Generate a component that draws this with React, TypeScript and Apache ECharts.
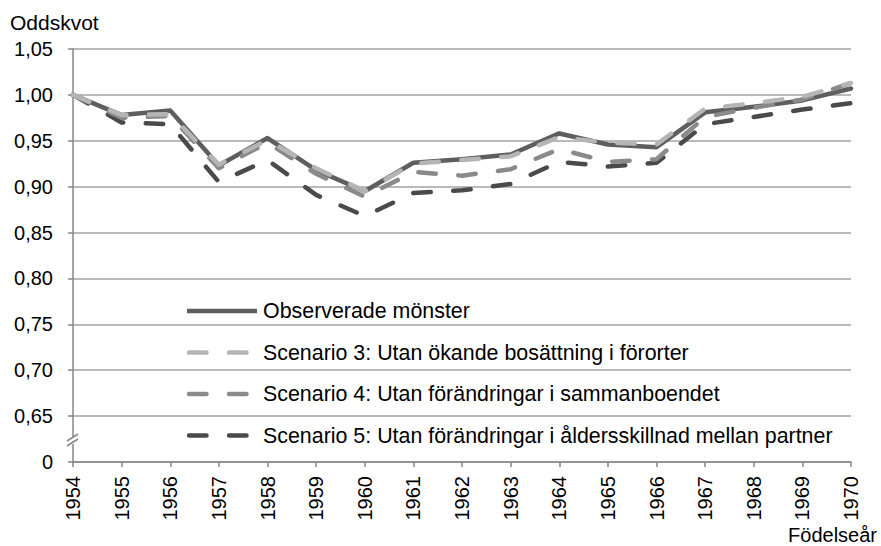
import React, { useEffect, useRef } from "react";
import * as echarts from "echarts";

const years = ["1954","1955","1956","1957","1958","1959","1960","1961","1962","1963","1964","1965","1966","1967","1968","1969","1970"];
const observed = [1.000, 0.978, 0.983, 0.923, 0.953, 0.918, 0.895, 0.926, 0.930, 0.935, 0.958, 0.946, 0.943, 0.981, 0.987, 0.994, 1.007];
const scenario3 = [1.000, 0.978, 0.979, 0.924, 0.951, 0.920, 0.895, 0.925, 0.929, 0.933, 0.954, 0.948, 0.946, 0.985, 0.991, 0.998, 1.013];
const scenario4 = [1.000, 0.975, 0.977, 0.920, 0.948, 0.914, 0.889, 0.916, 0.912, 0.919, 0.941, 0.927, 0.930, 0.976, 0.986, 0.995, 1.013];
const scenario5 = [1.000, 0.970, 0.968, 0.905, 0.929, 0.891, 0.868, 0.893, 0.896, 0.903, 0.927, 0.922, 0.926, 0.968, 0.976, 0.984, 0.991];

const seriesNames = [
  "Observerade mönster",
  "Scenario 3: Utan ökande bosättning i förorter",
  "Scenario 4: Utan förändringar i sammanboendet",
  "Scenario 5: Utan förändringar i åldersskillnad mellan partner",
];
const seriesColors = ["#5e5e5e", "#b5b5b5", "#8a8a8a", "#4a4a4a"];
const seriesDashed = [false, true, true, true];

const FONT = "'Liberation Sans', Arial, sans-serif";

export default function App() {
  const ref = useRef<HTMLDivElement>(null);
  useEffect(() => {
    document.body.style.margin = "0";
    const chart = echarts.init(ref.current!, null, { renderer: "svg" });
    const dataSets = [observed, scenario3, scenario4, scenario5];
    const lw = 4.5;
    const dash = [17.5, 22.5];
    const series: any[] = [0, 3, 2, 1].map((i) => ({
      name: seriesNames[i],
      type: "line",
      data: dataSets[i],
      symbol: "none",
      z: 2 + (i === 0 ? 0 : 4 - i),
      lineStyle: {
        color: seriesColors[i],
        width: lw,
        type: seriesDashed[i] ? dash : "solid",
        cap: "round",
        join: "round",
      },
    }));

    const legendX0 = 189;
    const legendX1 = 255;
    const rowY = [311, 352.5, 394, 435.5];
    const legendGraphics: any[] = [];
    seriesNames.forEach((name, i) => {
      legendGraphics.push({
        type: "line",
        shape: { x1: seriesDashed[i] ? legendX0 : 187, y1: rowY[i], x2: seriesDashed[i] ? legendX1 : 257, y2: rowY[i] },
        style: {
          stroke: seriesColors[i],
          lineWidth: lw,
          lineDash: seriesDashed[i] ? dash : null,
          lineCap: seriesDashed[i] ? "round" : "butt",
        },
        z: 10,
      });
      legendGraphics.push({
        type: "text",
        x: 263,
        y: rowY[i],
        style: {
          text: name,
          font: `21.4px ${FONT}`,
          fill: "#000",
          verticalAlign: "middle",
          align: "left",
        },
        z: 10,
      });
    });

    chart.setOption({
      animation: false,
      grid: { left: 73, right: 30, top: 49, bottom: 84, containLabel: false },
      xAxis: {
        type: "category",
        data: years,
        boundaryGap: false,
        axisLine: { lineStyle: { color: "#878787", width: 1.5 } },
        axisTick: { show: true, length: 5, alignWithLabel: true, lineStyle: { color: "#878787", width: 1.5 } },
        axisLabel: {
          rotate: 90,
          margin: 14,
          color: "#000",
          fontSize: 20,
          fontFamily: FONT,
          interval: 0,
        },
        splitLine: { show: false },
      },
      yAxis: {
        type: "value",
        min: 0.6,
        max: 1.05,
        interval: 0.05,
        axisLine: { show: true, lineStyle: { color: "#878787", width: 1.5 } },
        axisTick: { show: true, length: 5, lineStyle: { color: "#878787", width: 1.5 } },
        axisLabel: {
          margin: 20,
          color: "#000",
          fontSize: 20,
          fontFamily: FONT,
          formatter: (v: number) => (v < 0.62 ? "0" : v.toFixed(2).replace(".", ",")),
        },
        splitLine: { show: true, lineStyle: { color: "#a3a3a3", width: 1.5 } },
      },
      series,
      graphic: [
        {
          type: "text",
          x: 10,
          y: 22,
          style: { text: "Oddskvot", font: `21px ${FONT}`, fill: "#000", verticalAlign: "middle" },
        },
        {
          type: "text",
          x: 877,
          y: 535,
          style: { text: "Födelseår", font: `20px ${FONT}`, fill: "#000", verticalAlign: "middle", align: "right" },
        },
        {
          type: "rect",
          shape: { x: 70, y: 437, width: 6, height: 7 },
          style: { fill: "#fff" },
          z: 20,
        },
        {
          type: "line",
          shape: { x1: 67, y1: 441, x2: 78, y2: 434 },
          style: { stroke: "#878787", lineWidth: 1.5 },
          z: 21,
        },
        {
          type: "line",
          shape: { x1: 67, y1: 446, x2: 78, y2: 439 },
          style: { stroke: "#878787", lineWidth: 1.5 },
          z: 21,
        },
        ...legendGraphics,
      ],
    });
    return () => chart.dispose();
  }, []);
  return <div ref={ref} style={{ width: 881, height: 546 }} />;
}
